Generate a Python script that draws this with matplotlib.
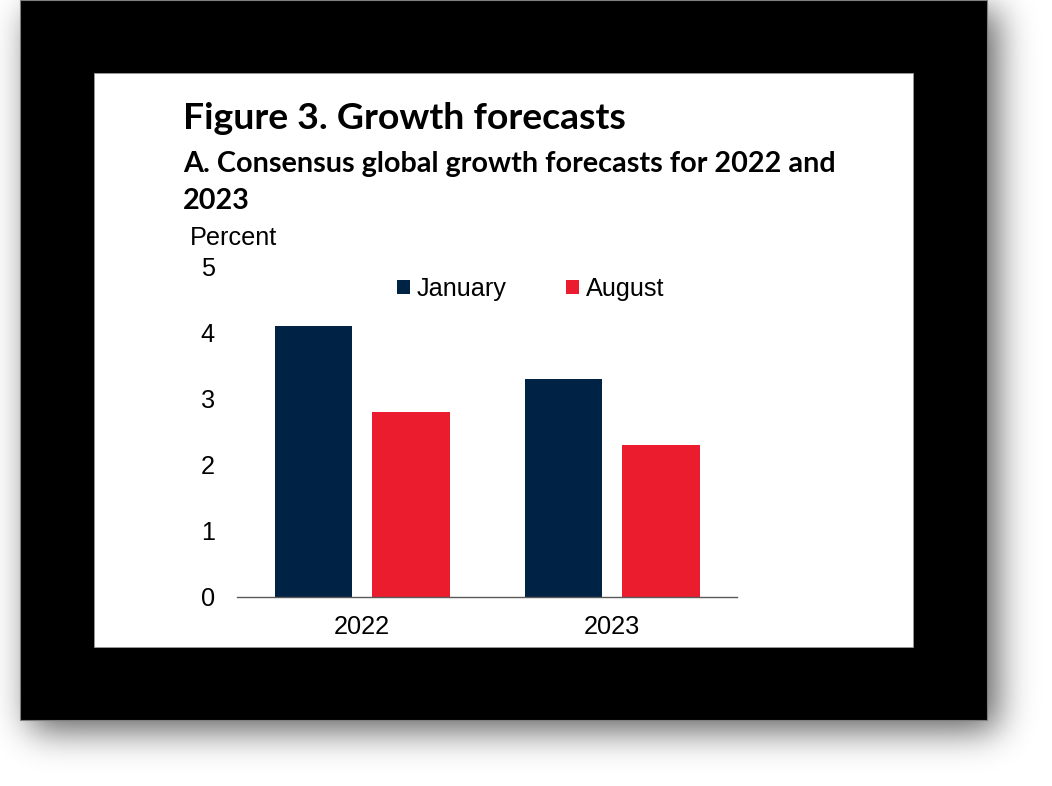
import math
import numpy as np
import matplotlib
matplotlib.use('Agg')
import matplotlib.pyplot as plt
from matplotlib.patches import Rectangle

# ---------------- data ----------------
years = ['2022', '2023']
series_names = ['January', 'August']
january = [4.1, 3.3]
august = [2.8, 2.3]
yticks = [0, 1, 2, 3, 4, 5]
title = 'Figure 3. Growth forecasts'
subtitle_lines = ['A. Consensus global growth forecasts for 2022 and', '2023']
ylabel = 'Percent'

W, H = 1052, 786
DPI = 100
FS = 18.2
fig = plt.figure(figsize=(W / DPI, H / DPI), dpi=DPI, facecolor='white')

# ---------------- screenshot frame (shadow, black border, white card) ----------------
bg = fig.add_axes([0, 0, 1, 1])
bg.set_xlim(0, W)
bg.set_ylim(H, 0)
bg.axis('off')


def erf_arr(a):
    return np.array([math.erf(v) for v in a])


def profile(n, a, b, sigma):
    t = np.arange(n) + 0.5
    s = sigma * np.sqrt(2)
    return 0.5 * (erf_arr((t - a) / s) - erf_arr((t - b) / s))


off, sig = 10, 18
fx = profile(W, 20 + off, 987 + off, sig)
fy = profile(H, 0 + off, 720 + off, sig)
img = np.zeros((H, W, 4))
img[..., 3] = 0.65 * np.outer(fy, fx)
bg.imshow(img, extent=(0, W, H, 0), interpolation='bilinear', aspect='auto', zorder=0)
bg.add_patch(Rectangle((20, 0), 967, 720, facecolor='black', edgecolor='#7f7f7f', lw=0.8, zorder=1))
bg.add_patch(Rectangle((94, 73), 819, 574, facecolor='white', edgecolor='#9a9a9a', lw=0.6, zorder=2))

# ---------------- chart ----------------
ax = fig.add_axes([237 / W, (H - 596.7) / H, 500 / W, 330 / H])
ax.patch.set_alpha(0)
x = np.arange(len(years))
w, gap = 0.31, 0.08
b1 = ax.bar(x - (w + gap) / 2, january, w, color='#002345', label=series_names[0])
b2 = ax.bar(x + (w + gap) / 2, august, w, color='#EB1C2D', label=series_names[1])
ax.set_xlim(-0.5, 1.5)
ax.set_ylim(0, 5)
ax.set_yticks(yticks)
ax.set_xticks(x, years)
for s in ['top', 'right', 'left']:
    ax.spines[s].set_visible(False)
ax.spines['bottom'].set_color('#595959')
ax.spines['bottom'].set_linewidth(1.0)
ax.tick_params(axis='both', length=0, labelsize=FS)
ax.tick_params(axis='y', pad=16.0)
ax.tick_params(axis='x', pad=13.5)
for lab in ax.get_xticklabels() + ax.get_yticklabels():
    lab.set_family('Liberation Sans')

leg = ax.legend(handles=[b1, b2], labels=series_names, loc='center left',
                bbox_to_anchor=(397 / W, 1 - 289 / H), bbox_transform=fig.transFigure,
                ncol=2, frameon=False, prop={'family': 'Liberation Sans', 'size': FS},
                handlelength=0.52, handleheight=0.52, handletextpad=0.24,
                columnspacing=2.38, borderpad=0, borderaxespad=0)

fig.text(190 / W, 1 - 245 / H, ylabel, fontsize=FS, family='Liberation Sans',
         ha='left', va='baseline')

renderer = fig.canvas.get_renderer()


def fit_text(xp, yp, s, target_w, size0, **kw):
    t = fig.text(xp / W, 1 - yp / H, s, fontsize=size0, ha='left', va='baseline', **kw)
    bb = t.get_window_extent(renderer=renderer)
    t.set_fontsize(size0 * target_w / bb.width)
    return t


fit_text(183, 129, title, 444, 29, family='Lato', weight='bold')
t1 = fit_text(183, 172, subtitle_lines[0], 653, 24, family='Lato', weight='bold')
fig.text(183 / W, 1 - 209 / H, subtitle_lines[1], fontsize=t1.get_fontsize(),
         family='Lato', weight='bold', ha='left', va='baseline')

fig.savefig('out.png', dpi=DPI, facecolor='white')
